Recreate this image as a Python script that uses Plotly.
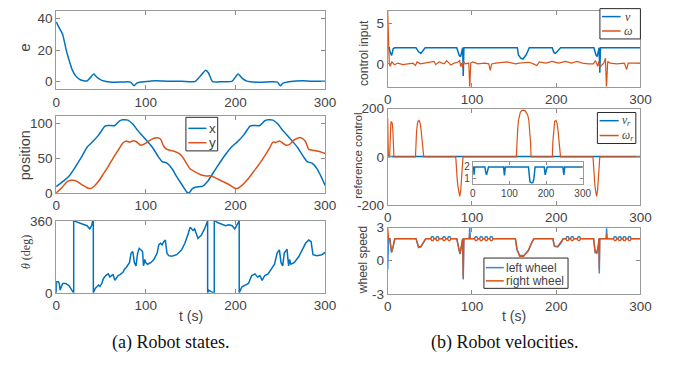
import plotly.graph_objects as go

W, H = 683, 368
BLUE = '#0072BD'
LBLUE = '#2E8AD8'
ORANGE = '#D95319'
TXT = '#444444'
SANS = 'Liberation Sans, Arial, sans-serif'
SERIF = 'Liberation Serif, Times New Roman, serif'

# ---------------- data ----------------
x_ticks = [0, 100, 200, 300]

# e
t_e = [0, 3.6, 7.3, 11, 14.5, 18, 22, 27, 34.5, 38, 42, 45.5, 51, 62, 75, 83, 87, 90, 95, 105,
       112, 125, 140, 154.5, 160, 167, 170, 174.5, 185, 196, 203, 207, 212.7, 225, 240, 247,
       250, 253, 258, 268, 275, 285, 300]
e_val = [38, 34, 30, 20.7, 13.6, 7.5, 3.5, 1.2, 0.4, 2.4, 4.9, 2.8, 0.8, -0.4, -0.2, -0.3,
         -2.6, -1.0, -0.3, 0.3, 0.6, 0.3, 0.3, 0, 3, 7.3, 5.5, 0, 0, 0.2, 4.9, 2.4, 0.3, -0.4,
         -0.1, -0.3, -2.6, -1.0, -0.2, 0.4, 0.6, 0.2, 0.3]

# position x
t_px = [0, 14.5, 29.1, 34.5, 39.3, 47.3, 54.5, 58.2, 65.5, 70.9, 74.5, 80, 85.5, 90.9, 98.2,
        107.3, 114.5, 118.2, 123.6, 129.1, 134.5, 140, 145.5, 148, 152, 156.4, 163.6, 169.1,
        178.2, 189.1, 196.4, 201.8, 209.1, 216.4, 220, 227.3, 232.7, 236.4, 241.8, 247.3,
        252.7, 260, 269.1, 276.4, 280, 285.5, 290.9, 296.4, 300]
pos_x = [9.1, 24.5, 53.2, 65.5, 71.4, 82.7, 95.5, 96.4, 96.4, 103.2, 104.5, 104.1, 98.6, 89.5,
         79.1, 65.5, 50.9, 45, 42.7, 35, 23.6, 12.7, 1.8, 0, 6.4, 8.6, 10, 16.8, 35, 55.5, 66.8,
         72.7, 82.7, 95.5, 96.4, 96.4, 103.2, 104.5, 104.1, 98.6, 89.5, 79.1, 65.5, 50.9, 45,
         42.7, 35, 21.4, 10.9]

# position y
t_py = [0, 3.6, 7.3, 12.7, 18.2, 23.6, 29.1, 34.5, 38.2, 41.8, 47.3, 52.7, 58.2, 63.6, 69.1,
        74.5, 78.2, 81.8, 85.5, 89.1, 94.5, 98.2, 103.6, 109.1, 112.7, 116.4, 120, 123.6,
        130.9, 138.2, 143.6, 149.1, 154.5, 161.8, 167.3, 172.7, 178.2, 185.5, 192.7, 198.2,
        201.8, 207.3, 212.7, 218.2, 225.5, 232.7, 238.2, 241.8, 245.5, 249.1, 252.7, 256.4,
        260, 265.5, 270.9, 274.5, 278.2, 281.8, 287.3, 294.5, 300]
pos_y = [0, 4.5, 9.1, 16.8, 18.2, 16.4, 11.8, 7.7, 6.4, 9.1, 16.8, 27.3, 38.2, 50, 60.9, 71.4,
         74.5, 72.7, 74.5, 73.6, 68.2, 70, 74.5, 78.2, 79.1, 77.3, 66.8, 62.3, 60, 55.5, 46.4,
         35, 30.5, 25.9, 24.5, 24.5, 21.4, 16.8, 12.3, 7.7, 6.4, 10.9, 18.2, 27.3, 39.5, 53.2,
         64.5, 72.7, 72.3, 74.5, 71.4, 68.2, 69.1, 75.9, 79.1, 78.2, 73.6, 62.3, 60.9, 59.1,
         56.4]

# theta (deg), wraps at 0/360
t_th = [0, 0.5, 2.5, 3.6, 4.4, 5.5, 7.3, 10.9, 14.5, 17.5, 19.6, 19.6, 21.8, 25.5, 29.1, 32.7,
        34.5, 37.5, 39.6, 40.7, 41.5, 41.5, 43.6, 45.5, 47.3, 49, 50.9, 52.7, 55.3, 58.2, 60,
        61.8, 63.6, 65.5, 67.3, 69.1, 70.9, 72.7, 74.5, 76.4, 78.2, 81.8, 83.6, 85.5, 87.3,
        89.1, 90.9, 92.7, 94.5, 96.4, 97.5, 98.9, 100, 101.8, 105.5, 109, 112.7, 114.5, 116.4,
        118.2, 120, 121.8, 123.6, 125.5, 129, 134.5, 140, 143.6, 147.3, 149.5, 152.7, 154.5,
        158.2, 161.8, 165.5, 168, 169, 169, 170.2, 172.7, 175.3, 176.4, 176.4, 177.5, 180,
        183.6, 189, 192.7, 196.4, 199.3, 201.8, 203.6, 204.2, 204.2, 205.5, 207.3, 210.9,
        214.5, 218.2, 221.8, 224.7, 227.3, 229.8, 232.7, 236.4, 240, 243.6, 246.5, 249, 250.9,
        252.7, 254.5, 257.5, 259.3, 260.4, 261.8, 265.5, 270.9, 274.5, 278.2, 281.8, 284.4,
        286.5, 290.9, 296.4, 300]
theta = [0, 55, 55, 47, 14, 31, 47, 47, 35, 14, 0, 360, 357, 352, 347, 341, 336, 320, 336, 357,
         360, 0, 22.5, 30.5, 38.6, 32, 46.6, 70.7, 86.8, 94.9, 78.8, 86.8, 90, 62.7, 78.8, 86.8,
         90, 94.9, 103, 119, 127, 151, 199, 207, 151, 135, 199, 223, 215, 207, 135, 167, 151,
         143, 151, 167, 199, 240, 248, 240, 256, 264, 199, 186, 183, 191, 215, 248, 296, 328,
         312, 320, 272, 288, 320, 352, 360, 0, 14, 6, 0, 0, 360, 360, 352, 344, 336, 341, 336,
         320, 344, 360, 360, 0, 14, 30.5, 38.6, 46.6, 86.8, 94.9, 78.8, 86.8, 62.7, 86.8, 94.9,
         119, 143, 199, 215, 151, 135, 199, 219, 135, 167, 143, 151, 183, 215, 248, 264, 256,
         191, 186, 191, 203]

# control input v
t_v = [0, 1.9, 2.7, 4.6, 6.6, 8.5, 33.6, 36.7, 39.4, 42.1, 44.5, 82, 84.7, 86.6, 87.8, 89,
       89.7, 90.5, 153.9, 155.2, 157.9, 160.5, 164.3, 168.1, 195.3, 197.3, 199.2, 202.3, 205.3,
       244.8, 247.2, 248.7, 249.9, 251, 251.8, 252.6, 300]
v_val = [2, 2, 1.5, 1.03, 1.9, 2, 2, 1.5, 1.3, 1.7, 2, 2, 1.1, 0.9, 1.5, 2, -1.5, 2, 2, 1.1,
         0.7, 0.6, 1.1, 2, 2, 1.4, 1.3, 1.7, 2, 2, 1.1, 0.9, 1.5, 2, -1.1, 2, 2]

# control input omega
t_w = [0, 0.8, 1.9, 3, 5, 8, 12, 18, 24, 30, 33, 35, 39, 45, 51, 55, 57, 61, 67, 70, 75, 79, 83,
       85.5, 86.6, 87.8, 88.9, 90.2, 92, 96.3, 97.4, 98.6, 101, 107, 115, 120, 121.8, 123.4,
       128, 134, 142, 148, 152, 156, 160, 168, 173, 175.2, 177, 180, 188, 195, 203, 211, 218,
       225, 231, 238, 244, 246.7, 249.4, 250.6, 251.8, 256.5, 258.5, 259.7, 261.2, 264, 272,
       281, 283.6, 285.5, 291, 300]
w_val = [6.6, 3, 0, -0.3, 0.25, -0.1, 0.1, -0.1, 0.0, 0.1, -0.2, 0.25, 0, 0.1, 0.2, 0.3, -0.1,
         0.25, 0, 0.4, -0.15, 0.1, 0.2, 0.4, -0.3, 0.1, -0.5, 0.3, 0, 0.1, -3.0, 0.1, 0.25, 0,
         0.1, 0, -0.8, 0, 0.1, 0.15, 0.25, 0.1, 0, 0.1, 0.15, 0.2, 0.0, -0.1, -0.2, 0.25, 0.1,
         0.3, 0.1, 0.3, 0.1, 0.3, 0.1, 0.0, 0.0, 0.4, -0.3, 0.3, -0.4, 0.1, 0.7, -3.0, 0.3, 0.1,
         0, 0.1, -0.7, 0.1, 0.1, 0.1]

# reference control v_r
t_vr = [0, 1, 2.5, 3.6, 5, 33, 35, 37.4, 40, 43, 84, 85.5, 86.4, 87.5, 89, 152, 154, 156, 160,
        164, 167, 170, 195, 196.5, 197.7, 200, 203, 246, 247.5, 248.4, 249.5, 251, 300]
vr_val = [2, 2, 1.9, 1.3, 2, 2, 1.6, 1.3, 1.6, 2, 2, 1.6, 1.25, 1.6, 2, 2, 1.2, 0.7, 0.57, 0.6,
          1.0, 2, 2, 1.6, 1.3, 1.6, 2, 2, 1.6, 1.3, 1.6, 2, 2]

# reference control omega_r
t_wr = [0, 0.8, 2.3, 3.1, 3.7, 4.3, 5.4, 6.1, 6.6, 7.1, 7.4,
        33, 33.5, 34.2, 35, 35.8, 37.3, 38.5, 39.6, 40.6, 41.6, 42.3, 42.8,
        80.8, 81.4, 82.4, 83.3, 84.3, 85.5, 86.7, 87.5, 88.2, 88.9, 89.4,
        152.7, 153.3, 154.3, 155.2, 156.2, 157.5, 159.3, 161, 163.2, 165, 166.3, 167.6, 168.7,
        169.6, 170.2,
        195.5, 196, 196.7, 197.4, 198.2, 199.8, 201, 202.1, 203.1, 204, 204.7, 205.2,
        243.7, 244.3, 245.2, 246, 246.8, 248, 249.1, 249.9, 250.7, 251.3, 251.8, 300]
wr_val = [160, 0, 0, 113, 135, 147, 140, 115, 87, 40, 0,
          0, 60, 100, 130, 147, 151, 140, 113, 80, 47, 20, 0,
          0, -45, -87, -120, -140, -164, -140, -105, -60, -25, 0,
          0, 60, 113, 150, 173, 186, 193, 194, 191, 183, 173, 150, 113, 60, 0,
          0, 60, 100, 130, 147, 151, 140, 113, 80, 47, 20, 0,
          0, -45, -87, -120, -140, -164, -140, -105, -60, -25, 0, 0]

# wheel speeds (small loops at a few instants)
t_wheel = [0, 1, 2.5, 4.6, 6.6, 8.5,
           33.6, 36.7, 39.4, 42.1, 45.2,
           51, 52.2, 53.8, 55,
           57, 58.2, 59.8, 61,
           65, 66.2, 67.8, 69,
           71, 72.2, 73.8, 75,
           82, 84.7, 85.8, 87.8, 89, 89.7, 90.4,
           96.8, 97.4, 98,
           103, 104.2, 105.8, 107,
           109, 110.2, 111.8, 113,
           115, 116.2, 117.8, 119,
           121, 122.2, 123.8, 125,
           151.6, 153.5, 156.6, 161.3, 167, 170.9, 173.6,
           196, 198, 201.9, 205.7, 208.4,
           211.5, 212.7, 214.3, 215.5,
           217, 218.2, 219.8, 221,
           225, 226.2, 227.8, 229,
           244.4, 246.3, 248.3, 250.2, 250.7, 251.2, 251.7,
           259.4, 259.9, 260.4,
           268, 269.2, 270.8, 272,
           273.5, 274.7, 276.3, 277.5,
           279, 280.2, 281.8, 283,
           285, 286.2, 287.8, 289,
           300]
left_wheel = [-0.8, 2, 2, 0.74, 1.3, 2,
              2, 1.2, 1.25, 1.6, 2,
              2, 2.18, 2.18, 2,
              2, 2.18, 2.18, 2,
              2, 2.18, 2.18, 2,
              2, 2.18, 2.18, 2,
              2, 0.74, 0.6, 1.4, 2, -1.7, 2,
              2, 3.0, 2,
              2, 2.18, 2.18, 2,
              2, 2.18, 2.18, 2,
              2, 2.18, 2.18, 2,
              2, 2.18, 2.18, 2,
              2, 1.0, 0.5, 0.45, 0.9, 1.6, 2,
              2, 1.3, 1.25, 1.6, 2,
              2, 2.18, 2.18, 2,
              2, 2.18, 2.18, 2,
              2, 2.18, 2.18, 2,
              2, 0.74, 0.7, 1.4, 2, -1.15, 2,
              2, 2.95, 2,
              2, 2.18, 2.18, 2,
              2, 2.18, 2.18, 2,
              2, 2.18, 2.18, 2,
              2, 2.18, 2.18, 2,
              2]
right_wheel = [3.0, 2, 2, 0.8, 1.35, 2,
               2, 1.25, 1.3, 1.65, 2,
               2, 1.82, 1.82, 2,
               2, 1.82, 1.82, 2,
               2, 1.82, 1.82, 2,
               2, 1.82, 1.82, 2,
               2, 0.8, 0.65, 1.45, 2, -1.5, 2,
               2, 2.4, 2,
               2, 1.82, 1.82, 2,
               2, 1.82, 1.82, 2,
               2, 1.82, 1.82, 2,
               2, 1.82, 1.82, 2,
               2, 1.05, 0.4, 0.4, 0.95, 1.65, 2,
               2, 1.35, 1.3, 1.65, 2,
               2, 1.82, 1.82, 2,
               2, 1.82, 1.82, 2,
               2, 1.82, 1.82, 2,
               2, 0.8, 0.75, 1.45, 2, -0.8, 2,
               2, 2.4, 2,
               2, 1.82, 1.82, 2,
               2, 1.82, 1.82, 2,
               2, 1.82, 1.82, 2,
               2, 1.82, 1.82, 2,
               2]

for a, b in [(t_e, e_val), (t_px, pos_x), (t_py, pos_y), (t_th, theta), (t_v, v_val),
             (t_w, w_val), (t_vr, vr_val), (t_wr, wr_val), (t_wheel, left_wheel),
             (t_wheel, right_wheel)]:
    assert len(a) == len(b), (len(a), len(b))

# ---------------- figure ----------------
fig = go.Figure()
LW = 1.5


def line(x, y, color, xa, ya, name=None, shape='linear', width=LW):
    fig.add_trace(go.Scatter(x=x, y=y, mode='lines', name=name,
                             line=dict(color=color, width=width, shape=shape, smoothing=0.6),
                             xaxis=xa, yaxis=ya, showlegend=False, hoverinfo='skip'))


line(t_e, e_val, BLUE, 'x', 'y', name='e', shape='spline')
line(t_px, pos_x, BLUE, 'x2', 'y2', name='x', shape='spline')
line(t_py, pos_y, ORANGE, 'x2', 'y2', name='y', shape='spline')
line(t_th, theta, BLUE, 'x3', 'y3', name='theta')
line(t_v, v_val, BLUE, 'x4', 'y4', name='v')
line(t_w, w_val, ORANGE, 'x4', 'y4', name='omega', width=1.2)
line(t_vr, vr_val, BLUE, 'x5', 'y5', name='v_r')
line(t_wr, wr_val, ORANGE, 'x5', 'y5', name='omega_r', width=1.2)
line(t_vr, vr_val, BLUE, 'x6', 'y6', name='v_r inset')
line(t_wheel, left_wheel, LBLUE, 'x7', 'y7', name='left wheel')
line(t_wheel, right_wheel, ORANGE, 'x7', 'y7', name='right wheel', width=1.3)


def dom_x(a, b):
    return [a / W, b / W]


def dom_y(top, bot):
    return [1 - bot / H, 1 - top / H]


LX = (53.3, 328.3)
RX = (392.3, 650.7)


def axstyle(size=13.5, ticklen=4):
    return dict(showline=True, linecolor='#9a9a9a', linewidth=1, mirror='ticks',
                ticks='inside', ticklen=ticklen, tickcolor='#8a8a8a', tickwidth=1,
                showgrid=False, zeroline=False,
                tickfont=dict(family=SANS, size=size, color=TXT))


def xax(dom, anchor, size=13.5, ticklen=4):
    d = axstyle(size, ticklen)
    d.update(domain=dom_x(*dom), anchor=anchor, range=[0, 300], tickvals=x_ticks)
    return d


def yax(dom_top_bot, anchor, rng, tickvals, ticktext=None, size=13.5, ticklen=4):
    d = axstyle(size, ticklen)
    d.update(domain=dom_y(*dom_top_bot), anchor=anchor, range=rng, tickvals=tickvals)
    if ticktext:
        d['ticktext'] = ticktext
    return d


fig.update_layout(
    width=W, height=H, margin=dict(l=0, r=0, t=0, b=0),
    paper_bgcolor='white', plot_bgcolor='white', showlegend=False,
    xaxis=xax(LX, 'y'), yaxis=yax((4, 86), 'x', [-5, 45], [0, 20, 40]),
    xaxis2=xax(LX, 'y2'), yaxis2=yax((114, 194), 'x2', [0, 109.5], [0, 50, 100]),
    xaxis3=xax(LX, 'y3'), yaxis3=yax((223, 298), 'x3', [0, 360], [0, 360]),
    xaxis4=xax(RX, 'y4'), yaxis4=yax((4, 83), 'x4', [-2.82, 6.58], [0, 5]),
    xaxis5=xax(RX, 'y5'), yaxis5=yax((106, 206.5), 'x5', [-200, 200], [-200, 0, 200],
                                     ['-200', '0', '200']),
    xaxis6=xax((479.3, 591.7), 'y6', size=10, ticklen=3),
    yaxis6=yax((161.7, 184.3), 'x6', [0.5, 2.43], [1, 2], size=10, ticklen=3),
    xaxis7=xax(RX, 'y7'), yaxis7=yax((230, 299), 'x7', [-3, 3], [-3, 0, 3], ['-3', '0', '3']),
)


def label(text, xp, yp, size, angle=0, family=SANS, color=TXT, xanchor='center'):
    fig.add_annotation(text=text, x=xp / W, y=1 - yp / H, xref='paper', yref='paper',
                       showarrow=False, textangle=angle, xanchor=xanchor, yanchor='middle',
                       borderpad=0, font=dict(family=family, size=size, color=color))


# legends (box, line samples, entry texts) placed in pixel positions
def legend_box(x0, y0, x1, y1, entries, family, size):
    fig.add_shape(type='rect', xref='paper', yref='paper', x0=x0 / W, x1=x1 / W,
                  y0=1 - y1 / H, y1=1 - y0 / H, line=dict(color='#2a2a2a', width=1),
                  fillcolor='white', layer='above')
    for (lx0, lx1, ly, color, text, tx) in entries:
        fig.add_shape(type='line', xref='paper', yref='paper', x0=lx0 / W, x1=lx1 / W,
                      y0=1 - ly / H, y1=1 - ly / H, line=dict(color=color, width=1.5),
                      layer='above')
        label(text, tx, ly, size, family=family, xanchor='left')


legend_box(186, 115, 218.5, 150,
           [(188.5, 207, 126.5, BLUE, 'x', 208.5), (188.5, 207, 141.5, ORANGE, 'y', 208.5)],
           SANS, 13.5)
legend_box(609.3, 1.7, 650.7, 33.3,
           [(611.5, 630.5, 10, BLUE, '<i>v</i>', 634), (611.5, 630.5, 25, ORANGE, '<i>ω</i>', 633)],
           SERIF, 12)
legend_box(606.7, 110, 646, 142.3,
           [(609, 628.5, 118.5, BLUE, '<i>v<sub>r</sub></i>', 631),
            (609, 628.5, 134, ORANGE, '<i>ω<sub>r</sub></i>', 631)],
           SERIF, 11.5)
legend_box(490.7, 261.7, 576.7, 293.3,
           [(492.7, 511, 271.7, LBLUE, 'left wheel', 512.5),
            (492.7, 511, 285.5, ORANGE, 'right wheel', 512.5)],
           SANS, 12)

label('e', 21, 43, 15, -90)
label('position', 21, 155, 14.5, -90)
label('<i>θ</i> (deg)', 22, 256, 12, -90, family=SERIF)
label('t (s)', 191, 322, 14)
label('control input', 368, 48, 12, -90)
label('reference control', 362, 155, 11.5, -90)
label('wheel speed', 367, 264, 12, -90)
label('t (s)', 521, 322, 14)
label('(a) Robot states.', 170, 350, 18, family=SERIF, color='#111')
label('(b) Robot velocities.', 512, 350, 18, family=SERIF, color='#111')

fig.write_html('out.html')
